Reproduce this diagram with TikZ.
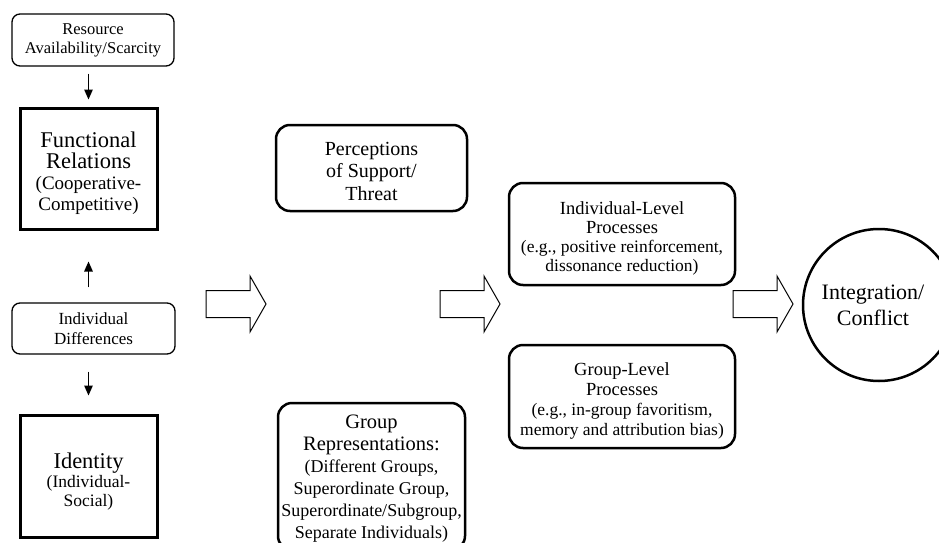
\documentclass[tikz,border=0pt]{standalone}
\usepackage{fontspec}
\setmainfont{Liberation Serif}
\usetikzlibrary{arrows.meta}
\newcommand\myfs[2]{\fontsize{#1}{#2}\selectfont}
\tikzset{
  thinbox/.style={draw, rounded corners=8pt, line width=1.3pt, align=center, inner sep=0pt},
  thickbox/.style={draw, line width=3pt, inner sep=0pt},
  roundbox/.style={draw, rounded corners=14pt, line width=2.5pt, inner sep=0pt},
  boxtext/.style={align=center, inner sep=0pt},
  arr/.style={line width=1.3pt, -{Triangle[length=10pt,width=8.5pt]}},
  hollow/.style={draw, line width=1pt, fill=white},
}
\begin{document}
\begin{tikzpicture}[x=1pt,y=-1pt]
\useasboundingbox (0,0) rectangle (939,543);
\clip (0,0) rectangle (939,543);

% left column
\node[thinbox, minimum width=162pt, minimum height=52pt, font=\myfs{16.5}{19}] (res) at (93,40)
  {Resource\\Availability/Scarcity};
\node[thickbox, minimum width=137pt, minimum height=121pt,
  label={[boxtext, yshift=-5pt, font=\myfs{19}{21}]center:{\myfs{22.5}{24}Functional\\\myfs{22.5}{24}Relations\\(Cooperative-\\Competitive)}}]
  (fr) at (88.5,168.5) {};
\node[thinbox, minimum width=163pt, minimum height=51pt, font=\myfs{17}{20},
  text depth=0pt] (ind) at (93.5,328.5)
  {Individual\\Differences};
\node[thickbox, minimum width=137pt, minimum height=122pt,
  label={[boxtext, yshift=-6pt, font=\myfs{17.5}{19}]center:{\myfs{22.5}{24}Identity\\(Individual-\\Social)}}]
  (idt) at (88.5,476) {};

\draw[arr, shorten <=7pt, shorten >=7pt] (fr.north |- res.south) -- (fr.north);
\draw[arr, shorten <=15pt, shorten >=31pt] (fr.south |- ind.north) -- (fr.south);
\draw[arr, shorten <=17pt, shorten >=18pt] (idt.north |- ind.south) -- (idt.north);

% middle column
\node[roundbox, minimum width=191pt, minimum height=86pt,
  label={[boxtext, yshift=-3pt, font=\myfs{20}{22.5}]center:{Perceptions\\of Support/\\Threat}}]
  (per) at (371.5,168) {};
\node[roundbox, minimum width=187pt, minimum height=147pt,
  label={[boxtext, yshift=-2.5pt, font=\myfs{18}{22}]center:{\myfs{20.5}{22}Group\\\myfs{20.5}{22}Representations:\\(Different Groups,\\Superordinate Group,\\Superordinate/Subgroup,\\Separate Individuals)}}]
  (grp) at (371.5,476.5) {};

% right column
\node[roundbox, minimum width=226pt, minimum height=102pt,
  label={[boxtext, yshift=-4pt, font=\myfs{17.5}{19}]center:{\myfs{18.5}{24}Individual-Level\\\myfs{18.5}{24}Processes\\(e.g., positive reinforcement,\\dissonance reduction)}}]
  (ilp) at (622,234) {};
\node[roundbox, minimum width=226pt, minimum height=103pt,
  label={[boxtext, yshift=-4pt, font=\myfs{17.5}{20}]center:{\myfs{18.5}{23}Group-Level\\\myfs{18.5}{23}Processes\\(e.g., in-group favoritism,\\memory and attribution bias)}}]
  (glp) at (622,396.5) {};

\node[draw, circle, line width=2.5pt, minimum size=152pt, inner sep=0pt,
  label={[boxtext, xshift=-6pt, font=\myfs{22}{26}]center:{Integration/\\Conflict}}]
  (ic) at (879,305) {};

% hollow block arrows
\draw[hollow] (206,290.5) -- (250,290.5) -- (250,276) -- (266,304) -- (250,332) -- (250,317.5) -- (206,317.5) -- cycle;
\draw[hollow] (440,290.5) -- (484,290.5) -- (484,276) -- (500,304) -- (484,332) -- (484,317.5) -- (440,317.5) -- cycle;
\draw[hollow] (733,290.5) -- (777,290.5) -- (777,276) -- (793,304) -- (777,332) -- (777,317.5) -- (733,317.5) -- cycle;
\end{tikzpicture}
\end{document}
